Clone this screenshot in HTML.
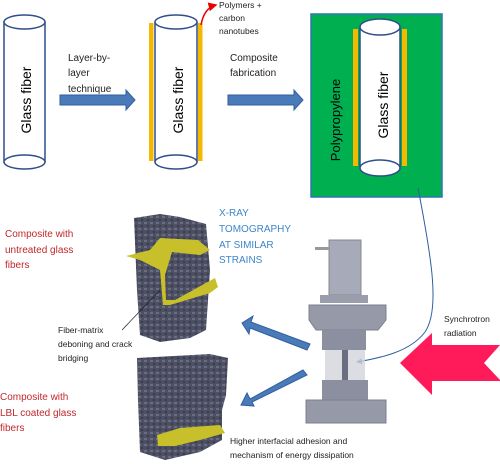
<!DOCTYPE html>
<html><head><meta charset="utf-8"><style>
html,body{margin:0;padding:0;background:#fff;width:500px;height:464px;overflow:hidden}
svg{display:block;font-family:"Liberation Sans",sans-serif}
</style></head><body>
<svg width="500" height="464" viewBox="0 0 500 464">
<defs>
<pattern id="tex" width="6" height="6" patternUnits="userSpaceOnUse">
<rect width="6" height="6" fill="#4d4f63"/><rect x="0" y="0" width="3" height="2" fill="#6a6c82"/><rect x="3" y="3" width="2" height="2" fill="#3a3b4c"/>
</pattern>
<marker id="ah" markerWidth="6" markerHeight="6" refX="5" refY="3" orient="auto"><path d="M0,0 L6,3 L0,6 Z" fill="#2e5f9e"/></marker>
<marker id="rh" markerWidth="6" markerHeight="6" refX="5" refY="3" orient="auto"><path d="M0,0 L6,3 L0,6 Z" fill="#e00"/></marker>
</defs>
<!-- cylinder 1 -->
<g>
<rect x="4" y="22" width="41" height="140" fill="#fff" stroke="#2f4e8a" stroke-width="1.5"/>
<ellipse cx="24.5" cy="162" rx="20.5" ry="7" fill="#fff" stroke="#2f4e8a" stroke-width="1.5"/>
<ellipse cx="24.5" cy="22" rx="20.5" ry="7" fill="#fff" stroke="#2f4e8a" stroke-width="1.5"/>
<text transform="translate(31,100) rotate(-90)" text-anchor="middle" font-size="14">Glass fiber</text>
</g>
<g>
<path d="M60,95 H126 V90 L135,100 L126,110 V105 H60 Z" fill="#4a7ab8" stroke="#2e5f9e"/>
<text x="68" y="61" font-size="10" fill="#222">Layer-by-</text>
<text x="68" y="76" font-size="10" fill="#222">layer</text>
<text x="68" y="92" font-size="10" fill="#222">technique</text>
</g>
<!-- cylinder 2 -->
<g>
<rect x="149" y="23" width="4.5" height="138" fill="#f5b800"/>
<rect x="198" y="23" width="4.5" height="138" fill="#f5b800"/>
<rect x="155" y="22" width="42" height="140" fill="#fff" stroke="#2f4e8a" stroke-width="1.5"/>
<ellipse cx="176" cy="162" rx="21" ry="7" fill="#fff" stroke="#2f4e8a" stroke-width="1.5"/>
<ellipse cx="176" cy="22" rx="21" ry="7" fill="#fff" stroke="#2f4e8a" stroke-width="1.5"/>
<text transform="translate(183,100) rotate(-90)" text-anchor="middle" font-size="14">Glass fiber</text>
<path d="M201,25 Q204,8 216,5" fill="none" stroke="#e00" stroke-width="1.5" marker-end="url(#rh)"/>
<text x="219" y="8" font-size="8.5" fill="#222">Polymers +</text>
<text x="219" y="21" font-size="8.5" fill="#222">carbon</text>
<text x="219" y="34" font-size="8.5" fill="#222">nanotubes</text>
</g>
<g>
<path d="M228,95 H294 V90 L303,100 L294,110 V105 H228 Z" fill="#4a7ab8" stroke="#2e5f9e"/>
<text x="230" y="61" font-size="10" fill="#222">Composite</text>
<text x="230" y="76" font-size="10" fill="#222">fabrication</text>
</g>
<!-- composite -->
<g>
<rect x="311" y="14" width="131" height="183" fill="#00b050" stroke="#2e75b6" stroke-width="1.5"/>
<rect x="353" y="29" width="5" height="137" fill="#f5b800"/>
<rect x="402" y="29" width="5" height="137" fill="#f5b800"/>
<rect x="360" y="27" width="40" height="141" fill="#fff" stroke="#2f4e8a" stroke-width="1.5"/>
<ellipse cx="380" cy="168" rx="20" ry="8" fill="#fff" stroke="#2f4e8a" stroke-width="1.5"/>
<ellipse cx="380" cy="27" rx="20" ry="8" fill="#fff" stroke="#2f4e8a" stroke-width="1.5"/>
<text transform="translate(388,105) rotate(-90)" text-anchor="middle" font-size="14">Glass fiber</text>
<text transform="translate(340,120) rotate(-90)" text-anchor="middle" font-size="13">Polypropylene</text>
</g>
<path d="M418,188 C432,260 440,310 425,332 C410,352 380,358 357,362" fill="none" stroke="#2e5f9e" stroke-width="1" marker-end="url(#ah)"/>
<!-- labels -->
<g font-size="10" fill="#c0282c">
<text x="5" y="237">Composite with</text><text x="5" y="253">untreated  glass</text><text x="5" y="268">fibers</text>
</g>
<g font-size="10" fill="#c0282c">
<text x="0" y="400">Composite with</text><text x="0" y="416">LBL coated glass</text><text x="0" y="431">fibers</text>
</g>
<g font-size="10" fill="#3b86c8">
<text x="219" y="216">X-RAY</text><text x="219" y="232">TOMOGRAPHY</text><text x="219" y="248">AT SIMILAR</text><text x="219" y="263">STRAINS</text>
</g>
<!-- tomography top -->
<g>
<path d="M134,218 L160,214 L180,217 L206,224 L210,270 L206,330 L190,338 L160,342 L140,335 L137,290 Z" fill="url(#tex)"/>
<path d="M126,256 L150,250 L160,238 L198,240 L210,250 L200,255 L172,252 L165,275 L166,300 L175,300 L215,278 L218,287 L210,293 L170,305 L163,305 L160,270 L140,260 Z" fill="#c8c02a"/>
<line x1="122" y1="330" x2="160" y2="290" stroke="#222" stroke-width="0.7"/>
</g>
<g font-size="8.5" fill="#222">
<text x="58" y="333">Fiber-matrix</text><text x="58" y="347">deboning and crack</text><text x="58" y="361">bridging</text>
</g>
<!-- tomography bottom -->
<g>
<path d="M137,358 L210,354 L228,358 L226,395 L222,410 L222,440 L200,452 L165,460 L140,452 L138,400 Z" fill="url(#tex)"/>
<path d="M157,435 L180,428 L220,425 L225,433 L200,440 L175,446 L158,446 Z" fill="#c8c02a"/>
</g>
<!-- machine -->
<g>
<rect x="329" y="240" width="32" height="55" fill="#a7aab8" stroke="#888"/>
<rect x="315" y="247" width="15" height="3" fill="#999"/>
<rect x="320" y="295" width="48" height="8" fill="#9a9dab"/>
<path d="M309,305 H386 V320 L378,330 H316 L309,320 Z" fill="#9699a8" stroke="#7d8090"/>
<rect x="322" y="330" width="44" height="20" fill="#8c8fa0"/>
<rect x="325" y="350" width="40" height="30" fill="#d2d4dc" opacity="0.8"/>
<rect x="342" y="350" width="6" height="30" fill="#6b6e80"/>
<rect x="322" y="380" width="46" height="20" fill="#8c8fa0"/>
<rect x="306" y="400" width="80" height="23" fill="#9699a8" stroke="#7d8090"/>
</g>
<path d="M310,344 L251,322 L253,316 L242,323 L249,334 L250,328 L307,350 Z" fill="#4a7ab8" stroke="#2e5f9e"/>
<path d="M303,370 L250,399 L247,393 L241,405 L254,406 L252,402 L307,375 Z" fill="#4a7ab8" stroke="#2e5f9e"/>
<path d="M400,363 L432,333 V345 H500 L484,363 L500,380 V381 H432 V395 Z" fill="#ff1a5a"/>
<g font-size="8.5" fill="#222">
<text x="444" y="322">Synchrotron</text><text x="444" y="336">radiation</text>
</g>
<g font-size="8.5" fill="#222">
<text x="230" y="444">Higher interfacial adhesion and</text><text x="230" y="458">mechanism of energy dissipation</text>
</g>
</svg>
</body></html>
